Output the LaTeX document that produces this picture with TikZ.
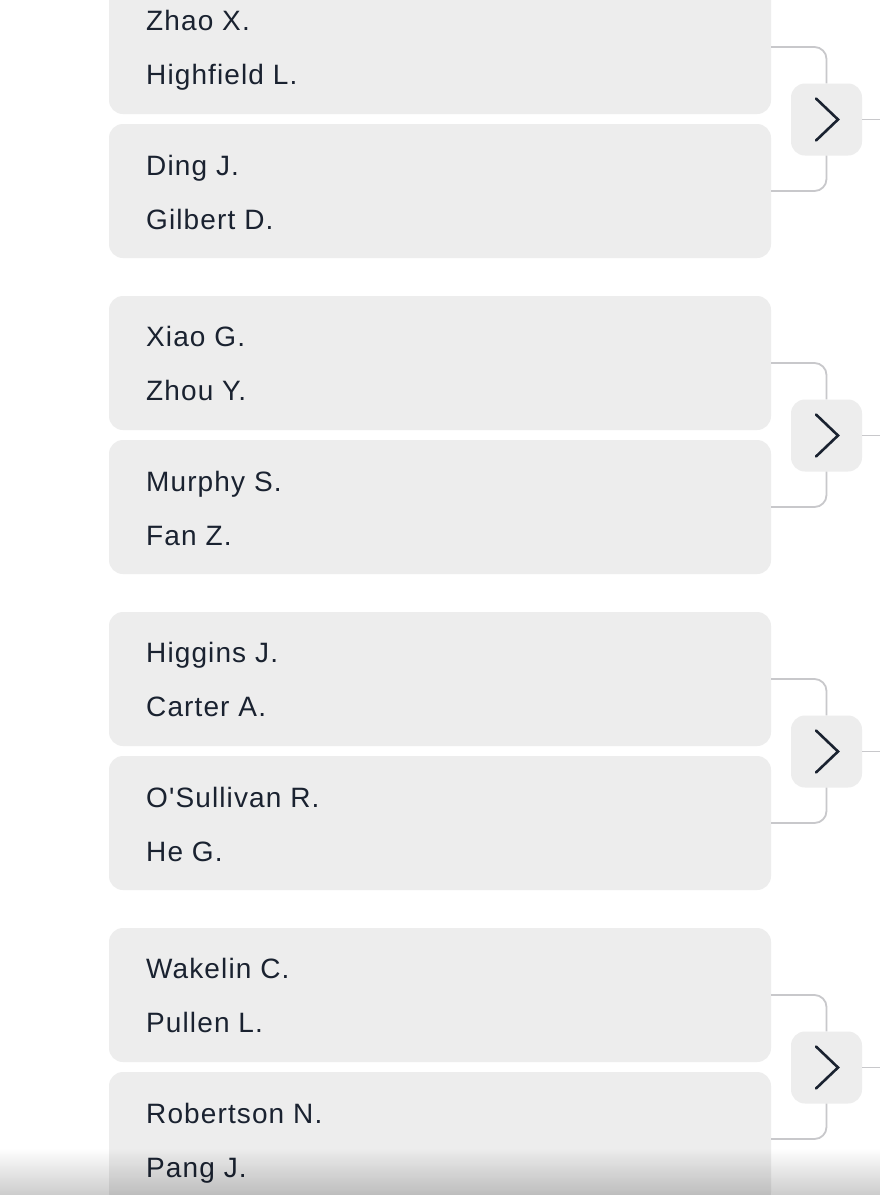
\documentclass[tikz,border=0pt]{standalone}
\usepackage{fontspec}
\newfontfamily\plfont{Liberation Sans}[LetterSpace=4]
\usetikzlibrary{calc,fadings}
\definecolor{boxfill}{HTML}{EDEDED}
\definecolor{connc}{HTML}{C8C8CB}
\definecolor{inkc}{HTML}{1A2230}
\tikzfading[name=fadeup, top color=transparent!100, bottom color=transparent!0]
\tikzset{
  box/.style={rectangle, fill=boxfill, rounded corners=14pt, minimum width=662pt, minimum height=134pt, inner sep=0pt},
  btn/.style={rectangle, fill=boxfill, rounded corners=14pt, minimum width=71pt, minimum height=72pt, inner sep=0pt},
  player/.style={anchor=base west, inner sep=0pt, text=inkc, font=\plfont\fontsize{28}{30}\selectfont},
  conn/.style={draw=connc, line width=1.8pt, rounded corners=12pt},
  chev/.style={draw=inkc, line width=2.6pt, line cap=round, line join=miter},
}
\begin{document}
\begin{tikzpicture}[x=1pt,y=-1pt]
\useasboundingbox (0,0) rectangle (880,1200);
\clip (0,0) rectangle (880,1200);
\fill[white] (0,0) rectangle (880,1200);
\foreach \k/\na/\nb/\nc/\nd in {
  1/Zhao X./Highfield L./Ding J./Gilbert D.,
  2/Xiao G./Zhou Y./Murphy S./Fan Z.,
  3/Higgins J./Carter A./O'Sullivan R./He G.,
  4/Wakelin C./Pullen L./Robertson N./Pang J.}{
  \pgfmathsetmacro{\yo}{-20+316*(\k-1)}
  \node[box] (a\k) at (440, \yo+67) {};
  \node[box] (b\k) at (440, \yo+211) {};
  \node[player] (ta\k) at (146, \yo+50.5) {\na};
  \node[player] (tb\k) at (146, \yo+104.5) {\nb};
  \node[player] (tc\k) at (146, \yo+195.5) {\nc};
  \node[player] (td\k) at (146, \yo+249.5) {\nd};
  \node[btn] (n\k) at (826.5, \yo+139.5) {};
  \coordinate (e\k) at (885, \yo+139.5);
  \draw[conn] (a\k.east) -| (n\k.north);
  \draw[conn] (b\k.east) -| (n\k.south);
  \draw[conn] (n\k.east) -- (e\k);
  \draw[chev] ($(n\k.center)+(-10.5,-21)$) -- ++(22,21) -- ++(-22,21);
}
\fill[black, opacity=0.2, path fading=fadeup] (0,1148) rectangle (880,1195);
\fill[white] (0,1195) rectangle (880,1200);
\end{tikzpicture}
\end{document}
